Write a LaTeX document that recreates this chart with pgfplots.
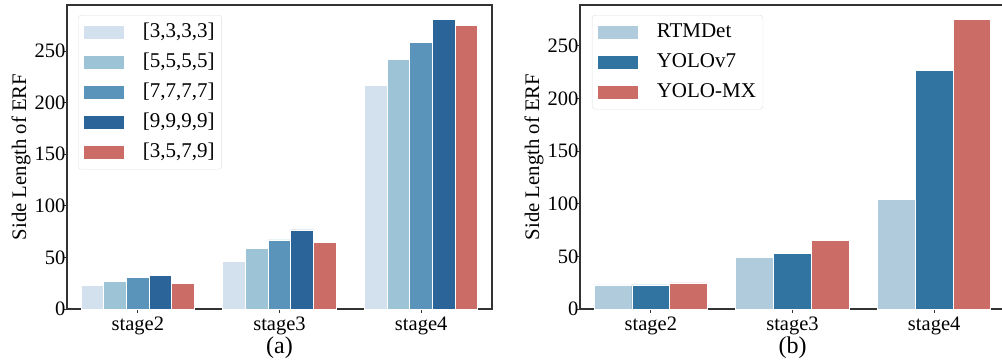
\documentclass[border=0pt]{standalone}
\usepackage{fontspec}
\setmainfont{Liberation Serif}
\usepackage{pgfplots}
\pgfplotsset{compat=1.18}
\definecolor{ca}{HTML}{D3E1EE}
\definecolor{cb}{HTML}{9DC3D7}
\definecolor{cc}{HTML}{5B94BB}
\definecolor{cd}{HTML}{2B6498}
\definecolor{ce}{HTML}{CB6C66}
\definecolor{rb}{HTML}{AFCBDC}
\definecolor{yb}{HTML}{3274A1}
\definecolor{axisgray}{HTML}{333333}
\begin{document}
\begin{tikzpicture}
\pgfplotsset{
  erfbase/.style={
    scale only axis, width=425pt, height=304pt,
    ymin=0, xmin=-0.5, xmax=2.5,
    xtick={0,1,2}, xticklabels={stage2,stage3,stage4},
    ytick={0,50,100,150,200,250},
    axis line style={draw=axisgray, line width=1.1pt},
    every tick/.style={draw=axisgray, line width=0.9pt},
    major tick length=4pt,
    tick align=outside, xtick pos=bottom, ytick pos=left,
    /pgf/number format/assume math mode=true,
    tick label style={font=\fontsize{20.5}{24}\selectfont},
    yticklabel style={inner sep=1pt, xshift=3.5pt},
    ylabel={Side Length of ERF},
    ylabel style={at={(axis description cs:-0.1082,0.5)}, anchor=center, font=\fontsize{20.7}{24}\selectfont},
    xlabel style={at={(axis description cs:0.5,0)}, yshift=-39pt, anchor=center, font=\fontsize{24}{28}\selectfont},
    legend style={draw=gray!25, rounded corners=3pt, fill=white, inner sep=5pt,
      font=\fontsize{21}{25}\selectfont,
      nodes={inner sep=2pt, text height=15pt, text depth=5pt},
      row sep=6pt, column sep=16pt},
    legend cell align=left,
    legend image code/.code={\fill[#1, sharp corners] (0pt,-6.8pt) rectangle (41pt,6.8pt);},
  },
  barsty/.style={ybar, fill=#1, draw=white, line width=0.7pt},
}
\begin{axis}[erfbase, ymax=294.6, xlabel={(a)}, bar width=0.16,
  legend style={at={(axis description cs:0.0259,0.967)}, anchor=north west}]
\addplot[barsty=ca, bar shift=-0.32] coordinates {(0,22.6) (1,46.5) (2,216.4)};
\addlegendentry{\relax[3,3,3,3]}
\addplot[barsty=cb, bar shift=-0.16] coordinates {(0,26.5) (1,58.4) (2,242.2)};
\addlegendentry{\relax[5,5,5,5]}
\addplot[barsty=cc, bar shift=0] coordinates {(0,30.7) (1,66.9) (2,258.4)};
\addlegendentry{\relax[7,7,7,7]}
\addplot[barsty=cd, bar shift=0.16] coordinates {(0,32.6) (1,76.6) (2,280.3)};
\addlegendentry{\relax[9,9,9,9]}
\addplot[barsty=ce, bar shift=0.32] coordinates {(0,24.5) (1,64.6) (2,274.5)};
\addlegendentry{\relax[3,5,7,9]}
\end{axis}
\begin{axis}[erfbase, at={(513pt,0pt)}, ymax=288.7, xlabel={(b)}, bar width=0.2667,
  legend style={at={(axis description cs:0.028,0.967)}, anchor=north west}]
\addplot[barsty=rb, bar shift=-0.2667] coordinates {(0,22.8) (1,48.7) (2,104.4)};
\addplot[barsty=yb, bar shift=0] coordinates {(0,22.8) (1,52.5) (2,226.9)};
\addplot[barsty=ce, bar shift=0.2667] coordinates {(0,24.7) (1,64.9) (2,274.7)};
\legend{RTMDet,YOLOv7,YOLO-MX}
\end{axis}
\pgfresetboundingbox
\path[use as bounding box] (-67pt,-53pt) rectangle (935pt,309pt);
\end{tikzpicture}
\end{document}
